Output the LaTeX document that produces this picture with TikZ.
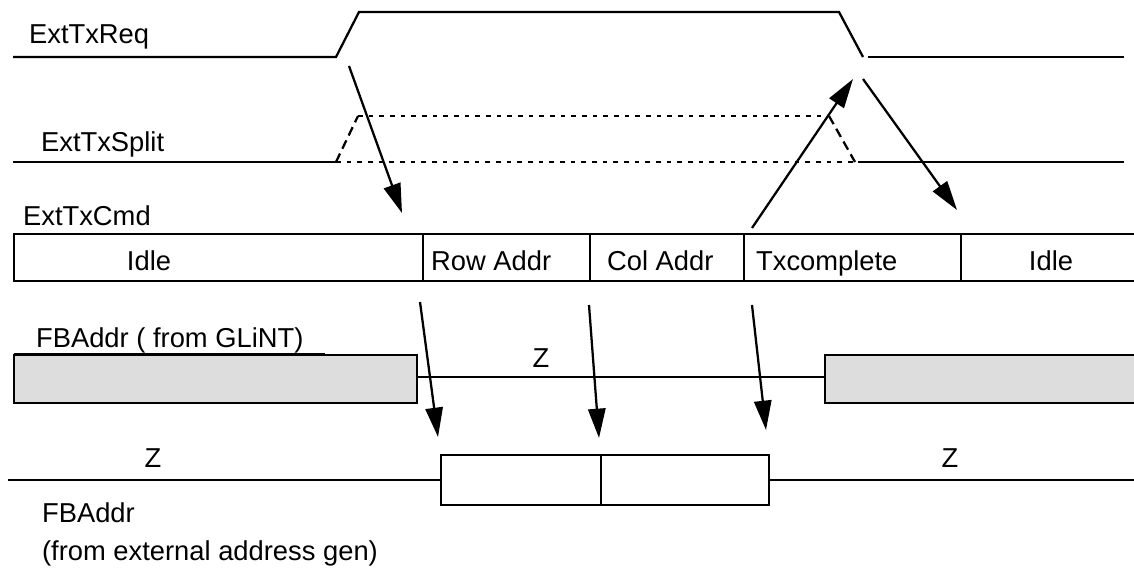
\documentclass[tikz,border=0pt]{standalone}
\usepackage{fontspec}
\setmainfont{Liberation Sans}
\usetikzlibrary{arrows.meta}
\definecolor{busgray}{HTML}{DDDDDD}
\tikzset{every picture/.style={line width=1.7pt}}
\tikzset{
  dotsig/.style={dash pattern={on 3.5pt off 4.5pt}},
  dashsig/.style={dash pattern={on 7pt off 4pt}},
  timarrow/.style={-{Triangle[length=22pt,width=13pt]}},
  lbl/.style={anchor=base west,inner sep=0pt,font=\fontsize{20.5pt}{24pt}\selectfont},
  clbl/.style={lbl,anchor=base},
}

\begin{document}
\begin{tikzpicture}[x=0.75pt,y=0.75pt,yscale=-1,xscale=1]
		\useasboundingbox (0,0) rectangle (1134,573);
		
		%ExtTxReq
		\draw    (13,57) -- (336,57) -- (359,12) -- (839,12) -- (863,57) ;
		\draw    (868,57) -- (1124,57) ;
		%ExtTxSplit
		\draw    (13,162) -- (336,162) ;
		\draw  [dashsig]  (336,162) -- (358,116) ;
		\draw  [dotsig]  (358,116) -- (829,116) ;
		\draw  [dashsig]  (829,116) -- (855,162) ;
		\draw  [dotsig]  (336,162) -- (855,162) ;
		\draw    (858,162) -- (1124,162) ;
		%ExtTxCmd bus
		\draw    (1134,234) -- (14,234) -- (14,281) -- (1134,281) ;
		\foreach \x in {423,590,744,961}
			\draw    (\x,234) -- (\x,281) ;
		%FBAddr from GLiNT
		\draw  [fill=busgray]  (14,355) rectangle (417,403) ;
		\draw    (14,354) -- (325,354) ;
		\draw    (417,377) -- (825,377) ;
		\fill  [busgray]  (825,355) rectangle (1134,403) ;
		\draw    (1134,355) -- (825,355) -- (825,403) -- (1134,403) ;
		%FBAddr from external address gen
		\draw    (8,480) -- (441,480) ;
		\draw    (441,455) rectangle (769,505) ;
		\draw    (601,455) -- (601,505) ;
		\draw    (769,480) -- (1134,480) ;
		
		%Arrow ends
		\coordinate (reqrise) at (349,66) ;
		\coordinate (rowtop) at (402,213) ;
		\coordinate (txdone) at (752,228) ;
		\coordinate (reqfall) at (853,79) ;
		\coordinate (reqlow) at (863,79) ;
		\coordinate (idletop) at (957,210) ;
		\coordinate (rowbot) at (420,302) ;
		\coordinate (rowext) at (438,437) ;
		\coordinate (colbot) at (589,305) ;
		\coordinate (colext) at (599,438) ;
		\coordinate (txbot) at (752,305) ;
		\coordinate (txext) at (766,430) ;
		%Arrows
		\draw  [timarrow]  (reqrise) -- (rowtop) ;
		\draw  [timarrow]  (txdone) -- (reqfall) ;
		\draw  [timarrow]  (reqlow) -- (idletop) ;
		\draw  [timarrow]  (rowbot) -- (rowext) ;
		\draw  [timarrow]  (colbot) -- (colext) ;
		\draw  [timarrow]  (txbot) -- (txext) ;
		
		% Text Node
		\node (reqlbl) [lbl] at (28,44) {ExtTxReq};
		% Text Node
		\node (splitlbl) [lbl] at (40,152) {ExtTxSplit};
		% Text Node
		\node (cmdlbl) [lbl] at (22,226) {ExtTxCmd};
		% Text Node
		\node (idlea) [clbl] at (149,271) {Idle};
		% Text Node
		\node (rowlbl) [lbl] at (430,271) {Row Addr};
		% Text Node
		\node (collbl) [lbl] at (606,271) {Col Addr};
		% Text Node
		\node (txlbl) [lbl] at (755,271) {Txcomplete};
		% Text Node
		\node (idleb) [clbl] at (1051,271) {Idle};
		% Text Node
		\node (glintlbl) [lbl] at (35,347) {FBAddr ( from GLiNT)};
		% Text Node
		\node (za) [clbl] at (541,368) {Z};
		% Text Node
		\node (zb) [clbl] at (153,467) {Z};
		% Text Node
		\node (zc) [clbl] at (950,467) {Z};
		% Text Node
		\node (extlbl) [lbl] at (41,522) {FBAddr};
		% Text Node
		\node (extsub) [lbl] at (41,560) {(from external address gen)};
		
	\end{tikzpicture}
\end{document}
